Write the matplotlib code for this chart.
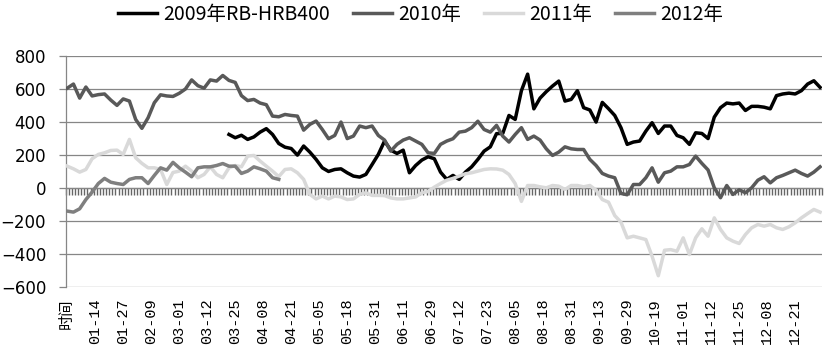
import numpy as np
import matplotlib
matplotlib.use("Agg")
import matplotlib.pyplot as plt

# 日期标签（每9个交易日一个）
date_labels = ['时间', '01-14', '01-27', '02-09', '03-01', '03-12', '03-25', '04-08',
               '04-21', '05-05', '05-18', '05-31', '06-11', '06-29', '07-12', '07-23',
               '08-05', '08-18', '08-31', '09-13', '09-29', '10-19', '11-01', '11-12',
               '11-25', '12-08', '12-21']
n_days = 243
label_step = 9
sample_step = 2   # values read every 2 trading days

# 2009年RB-HRB400, starts at day 52
start_2009 = 52
y_2009 = [325, 305, 320, 295, 310, 339, 360, 325, 270, 248, 240, 200, 255, 218, 174, 123,
          101, 113, 117, 93, 73, 67, 83, 143, 204, 285, 230, 210, 230, 93, 137, 170,
          190, 178, 97, 53, 77, 53, 97, 129, 174, 224, 250, 330, 331, 440, 416, 590,
          690, 480, 545, 584, 618, 648, 527, 537, 590, 487, 473, 400, 519, 481, 440, 366,
          265, 279, 285, 345, 396, 331, 376, 376, 319, 305, 265, 335, 331, 300, 430, 487,
          515, 510, 515, 470, 495, 495, 490, 480, 560, 570, 575, 570, 590, 630, 650, 610]

y_2010 = [605, 630, 545, 612, 558, 566, 570, 533, 501, 540, 527, 416, 362, 426, 517, 565,
          558, 555, 574, 600, 655, 620, 605, 655, 648, 682, 652, 640, 560, 530, 537, 515,
          505, 436, 432, 446, 440, 436, 351, 386, 406, 355, 299, 319, 400, 300, 315, 376,
          366, 376, 319, 291, 224, 265, 291, 305, 285, 265, 214, 210, 265, 285, 299, 339,
          345, 366, 405, 355, 339, 380, 315, 279, 325, 366, 295, 315, 291, 238, 198, 218,
          250, 238, 234, 234, 174, 137, 89, 73, 63, -32, -40, 22, 22, 63, 123, 36,
          93, 103, 129, 129, 143, 194, 150, 110, 2, -58, 16, -38, -10, -28, 2, 48,
          69, 32, 63, 77, 93, 109, 89, 73, 97, 129]

y_2011 = [133, 117, 97, 113, 178, 204, 214, 228, 230, 204, 295, 184, 150, 123, 123, 113,
          22, 95, 103, 133, 103, 63, 83, 129, 83, 63, 123, 137, 129, 194, 198, 164,
          133, 103, 70, 113, 117, 93, 53, -38, -65, -48, -65, -48, -53, -69, -65, -38,
          -28, -44, -44, -45, -59, -65, -65, -59, -53, -28, -20, 6, 28, 48, 59, 73,
          87, 93, 103, 113, 117, 116, 109, 83, 28, -80, 16, 16, 8, 2, 16, 12,
          -8, 16, 16, 8, 16, -12, -69, -85, -166, -206, -301, -291, -301, -311, -412, -530,
          -376, -372, -382, -301, -402, -301, -246, -291, -180, -250, -301, -321, -335, -281, -240, -220,
          -230, -220, -240, -250, -234, -210, -180, -154, -129, -145]

y_2012 = [-139, -145, -125, -69, -24, 28, 59, 36, 28, 22, 53, 63, 63, 28, 77, 123,
          109, 156, 123, 97, 69, 123, 129, 129, 137, 149, 133, 133, 89, 103, 129, 117,
          103, 63, 53]

series = [
    ('2009年RB-HRB400', start_2009, y_2009, '#000000'),
    ('2010年', 0, y_2010, '#595959'),
    ('2011年', 0, y_2011, '#d9d9d9'),
    ('2012年', 0, y_2012, '#7f7f7f'),
]

y_min, y_max = -600, 800
grid_c = '#868686'
cjk = ['Liberation Mono', 'Noto Sans CJK SC']

fig = plt.figure(figsize=(8.28, 3.62), dpi=100)
ax = fig.add_axes([0.0793, 0.2064, 0.9130, 0.6390])

handles = []
for name, start, vals, col in series:
    x = np.arange(len(vals)) * sample_step + start
    ln, = ax.plot(x, vals, color=col, lw=2.5, solid_joinstyle='round', label=name, zorder=3)
    handles.append(ln)

ax.set_xlim(-0.5, n_days - 0.5)
ax.set_ylim(y_min, y_max)
ax.set_yticks(np.arange(y_min, y_max + 1, 200))
ax.yaxis.grid(True, color=grid_c, lw=0.9, zorder=0)
ax.tick_params(axis='y', length=5, color=grid_c, width=0.9, pad=9, labelsize=12)
for lab in ax.get_yticklabels():
    lab.set_family('DejaVu Sans')

for s in ['top', 'right']:
    ax.spines[s].set_visible(False)
ax.spines['bottom'].set_visible(False)
ax.spines['left'].set_color(grid_c)
ax.spines['left'].set_linewidth(0.9)

# date labels at the bottom of the plot
ax.set_xticks(np.arange(len(date_labels)) * label_step, labels=date_labels)
ax.tick_params(axis='x', length=0, pad=8)
for lab in ax.get_xticklabels():
    lab.set_rotation(90)
    lab.set_family(cjk)
    lab.set_fontsize(11)

# category axis on the zero line, one tick at every day boundary
zero_frac = (0 - y_min) / (y_max - y_min)
axis0 = ax.secondary_xaxis(zero_frac)
axis0.set_xticks(np.arange(-0.5, n_days, 1))
axis0.tick_params(direction='out', length=5, color='#666666', width=1.0, labelbottom=False)
axis0.spines['bottom'].set_color(grid_c)
axis0.spines['bottom'].set_linewidth(0.9)

fig.legend(handles=handles, loc='center', bbox_to_anchor=(0.508, 0.961), ncol=4,
           frameon=False, handlelength=2.0, handletextpad=0.3, columnspacing=1.2,
           prop={'family': ['Liberation Sans Narrow', 'Noto Sans CJK SC'], 'size': 14})

fig.savefig('out.png', dpi=100)
